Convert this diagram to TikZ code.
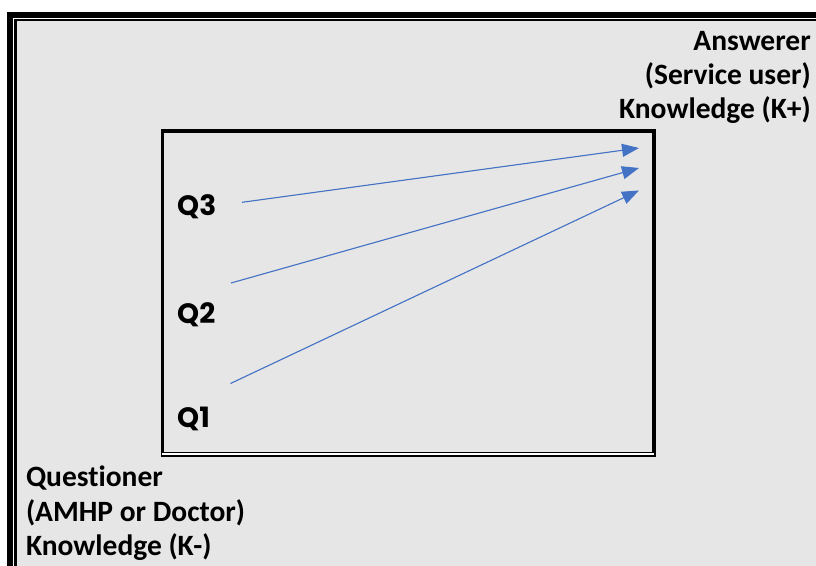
\documentclass[tikz,border=0pt]{standalone}
\usepackage{fontspec}
\setmainfont{Carlito}[RawFeature={-liga}]
\newfontfamily\qfont{Poppins}
\usetikzlibrary{arrows.meta}
\definecolor{panel}{HTML}{E6E6E6}
\definecolor{arrowblue}{HTML}{4472C4}
\tikzset{
  role/.style={font=\fontsize{29.5}{34}\selectfont\bfseries, inner sep=0pt},
  qlabel/.style={font=\qfont\fontsize{28}{34}\selectfont\bfseries, inner sep=0pt, anchor=base west},
  link/.style={draw=arrowblue, line width=1.1pt, -{Triangle[length=17pt,width=13pt]}, fill=arrowblue}
}
\begin{document}
\begin{tikzpicture}[x=1pt,y=-1pt]
\useasboundingbox (0,0) rectangle (816,565);
\clip (0,0) rectangle (816,565);
\fill[white] (0,0) rectangle (816,565);
% page frame: thick outer rule, thin inner rule
\fill[black] (7,12) rectangle (840,600);
\fill[white] (12.5,18) rectangle (840,600);
\fill[black] (14.3,19) rectangle (840,600);
\fill[panel] (16.7,21) rectangle (840,600);
% inner box
\fill[black] (160.7,129.3) rectangle (656,457);
\fill[panel] (164,132.7) rectangle (651.7,451.7);
\draw[white, line width=1.4pt] (162,454) -- (654,454);
% answerer
\node[role, anchor=base east] (a1) at (811,50) {Answerer};
\node[role, anchor=base east] (a2) at (811,84.3) {(Service user)};
\node[role, anchor=base east] (a3) at (811,118.6) {Knowledge (K+)};
% questioner
\node[role, anchor=base west] (b1) at (25.8,486.7) {Questioner};
\node[role, anchor=base west] (b2) at (25.8,521) {(AMHP or Doctor)};
\node[role, anchor=base west] (b3) at (25.8,555.3) {Knowledge (K-)};
% questions
\node[qlabel] (q3) at (177,215) {Q3};
\node[qlabel] (q2) at (177,323) {Q2};
\node[qlabel] (q1) at (177,427.5) {Q1};
\coordinate (s3) at (242,202.3);
\coordinate (s2) at (231,283);
\coordinate (s1) at (230.5,383.5);
\coordinate (t3) at (639,148);
\coordinate (t2) at (639,168);
\coordinate (t1) at (639,190.5);
\draw[link] (s3) -- (t3);
\draw[link] (s2) -- (t2);
\draw[link] (s1) -- (t1);
\end{tikzpicture}
\end{document}
